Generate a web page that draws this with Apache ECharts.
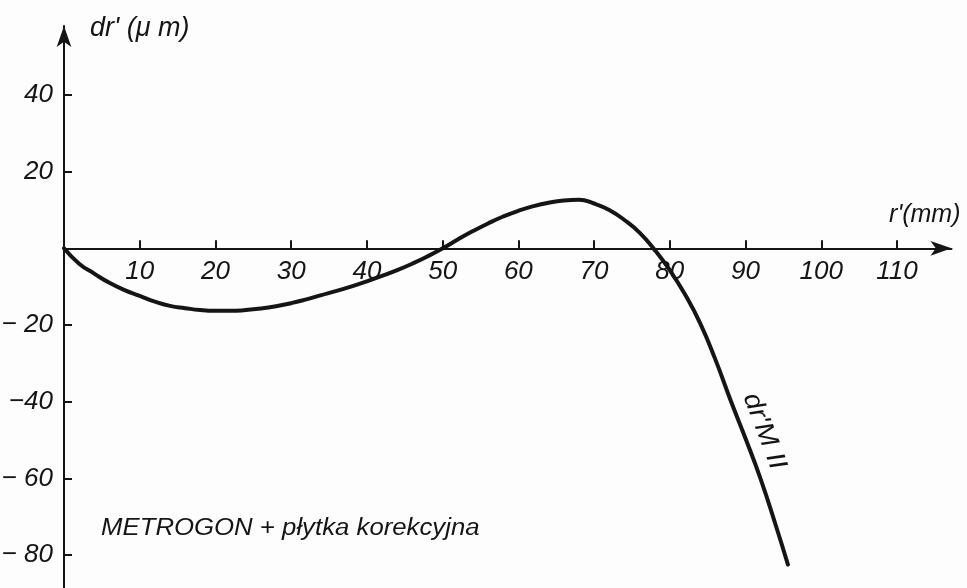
<!DOCTYPE html>
<html>
<head>
<meta charset="utf-8">
<script src="https://cdn.jsdelivr.net/npm/echarts@6/dist/echarts.min.js"></script>
<style>
  html, body { margin: 0; padding: 0; background: #fdfdfd; }
  #chart { width: 967px; height: 588px; }
</style>
</head>
<body>
<div id="chart"></div>
<script>
// Radial distortion dr' (µm) against image radius r' (mm)
const rValues = [0, 2, 4, 6, 8, 10, 12, 14, 16, 18, 20, 22, 24, 26, 28, 30, 32, 34, 36, 38, 40,
  42, 44, 46, 48, 50, 52, 54, 56, 58, 60, 62, 64, 66, 68, 70, 72, 74, 76, 78, 80,
  82, 84, 86, 88, 90, 92, 94, 95.6];
const drValues = [0, -4.0, -6.6, -9.0, -10.9, -12.4, -13.9, -15.0, -15.6, -16.1, -16.3, -16.3, -16.1, -15.7, -15.1, -14.3, -13.3, -12.2, -11.1, -9.9, -8.6,
  -7.2, -5.7, -4.0, -2.1, 0, 2.3, 4.5, 6.5, 8.3, 9.8, 11.0, 11.9, 12.5, 12.7, 11.7, 10.0, 7.4, 4.1, -0.4, -5.7,
  -12.0, -19.5, -28.9, -39.5, -49.6, -60.2, -72.3, -82.5];

const xTicks = [10, 20, 30, 40, 50, 60, 70, 80, 90, 100, 110];
const yTicks = [40, 20, -20, -40, -60, -80];
const yTickText = ['40', '20', '\u2212 20', '\u221240', '\u2212 60', '\u2212 80'];

const curveName = "dr'M II";
const noteText = 'METROGON + płytka korekcyjna';
const xName = "r'(mm)";
const yName = "dr' (\u03BC m)";

const INK = '#151515';
const FONT = "'Liberation Sans', 'DejaVu Sans', sans-serif";
const GRID = { left: 64, right: 15.5, top: 26, bottom: 0 };

const chart = echarts.init(document.getElementById('chart'), null, { renderer: 'canvas' });

const curveData = rValues.map((r, i) => [r, drValues[i]]);

chart.setOption({
  backgroundColor: '#fdfdfd',
  animation: false,
  grid: Object.assign({ outerBoundsMode: 'none', containLabel: false }, GRID),
  xAxis: {
    type: 'value',
    min: 0,
    max: 117.2,
    name: xName,
    nameLocation: 'end',
    nameGap: 9,
    nameTextStyle: {
      fontFamily: FONT, fontStyle: 'italic', fontSize: 25, color: INK,
      align: 'right', verticalAlign: 'bottom', padding: [0, 0, 21, 0]
    },
    axisLine: {
      onZero: false,
      symbol: ['none', 'arrow'],
      symbolSize: [11, 21],
      lineStyle: { color: INK, width: 2 }
    },
    axisTick: { inside: true, length: 8, customValues: xTicks, lineStyle: { color: INK, width: 2 } },
    axisLabel: {
      customValues: xTicks,
      margin: 10,
      fontFamily: FONT, fontStyle: 'italic', fontSize: 26, color: INK
    },
    splitLine: { show: false }
  },
  yAxis: {
    type: 'value',
    min: -88.6,
    max: 58,
    name: yName,
    nameLocation: 'end',
    nameGap: -2,
    nameTextStyle: {
      fontFamily: FONT, fontStyle: 'italic', fontSize: 27, color: INK,
      align: 'left', verticalAlign: 'middle', padding: [0, 0, 0, 26]
    },
    axisLine: {
      symbol: ['none', 'arrow'],
      symbolSize: [11, 21],
      lineStyle: { color: INK, width: 2 }
    },
    axisTick: { inside: true, length: 8, customValues: yTicks, lineStyle: { color: INK, width: 2 } },
    axisLabel: {
      customValues: yTicks,
      margin: 11,
      fontFamily: FONT, fontStyle: 'italic', fontSize: 26, color: INK,
      formatter: (v) => {
        const k = yTicks.indexOf(Math.round(v));
        return k >= 0 ? yTickText[k] : '';
      }
    },
    splitLine: { show: false }
  },
  series: [{
    name: curveName,
    type: 'line',
    data: curveData,
    smooth: 0.5,
    showSymbol: false,
    lineStyle: { color: INK, width: 4, cap: 'round', join: 'round' },
    z: 3
  }]
});

// Lift the r' axis (line, ticks and labels together) up to dr' = 0
const zeroY = chart.convertToPixel({ yAxisIndex: 0 }, 0);
const gridBottomY = chart.getHeight() - GRID.bottom;
chart.setOption({ xAxis: { offset: -(gridBottomY - zeroY) } });

// Curve label, laid along the steep falling branch
const iA = rValues.indexOf(90);
const pA = chart.convertToPixel({ gridIndex: 0 }, curveData[iA]);
const pPrev = chart.convertToPixel({ gridIndex: 0 }, curveData[iA - 1]);
const pNext = chart.convertToPixel({ gridIndex: 0 }, curveData[iA + 1]);
const dx = pNext[0] - pPrev[0], dy = pNext[1] - pPrev[1];
const len = Math.hypot(dx, dy);
const nx = dy / len, ny = -dx / len;
const gap = 20;

chart.setOption({
  graphic: [
    {
      type: 'text',
      x: pA[0] + nx * gap,
      y: pA[1] + ny * gap,
      rotation: -Math.atan2(dy, dx),
      scaleX: 1.12,
      style: {
        text: curveName,
        fill: INK,
        font: "italic 26px " + FONT,
        align: 'center',
        verticalAlign: 'middle'
      }
    },
    {
      type: 'text',
      x: 101,
      y: 529,
      scaleX: 1.12,
      style: {
        text: noteText,
        fill: INK,
        font: "italic 23px " + FONT,
        align: 'left',
        verticalAlign: 'middle'
      }
    }
  ]
});
</script>
</body>
</html>
